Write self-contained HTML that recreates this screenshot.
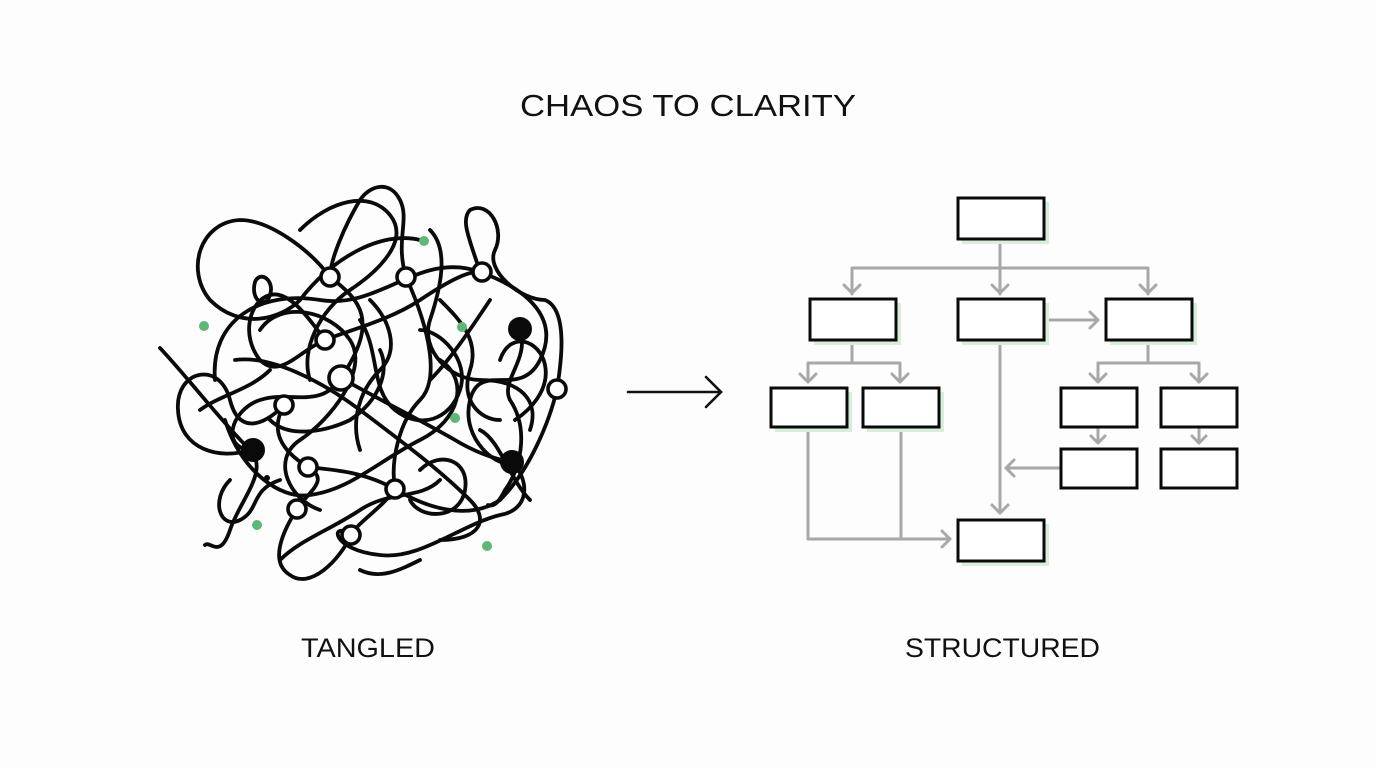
<!DOCTYPE html>
<html><head><meta charset="utf-8"><style>
html,body{margin:0;padding:0;background:#fdfdfd;}
svg{display:block}
</style></head><body>
<svg width="1376" height="768" viewBox="0 0 1376 768" xmlns="http://www.w3.org/2000/svg">
<rect width="1376" height="768" fill="#fdfdfd"/>
<g font-family="Liberation Sans, sans-serif" fill="#111">
<text x="520" y="116" font-size="31" textLength="336" lengthAdjust="spacingAndGlyphs">CHAOS TO CLARITY</text>
<text x="301" y="657" font-size="27" textLength="134" lengthAdjust="spacingAndGlyphs">TANGLED</text>
<text x="905" y="657" font-size="27" textLength="195" lengthAdjust="spacingAndGlyphs">STRUCTURED</text>
</g>
<g stroke="#111" stroke-width="2.6" fill="none" stroke-linecap="round">
<line x1="628" y1="392" x2="721" y2="392"/>
<polyline points="706,377 721,392 706,407"/>
</g>
<!-- tangle -->
<g stroke="#0a0a0a" stroke-width="3.8" fill="none" stroke-linecap="round">
<path d="M160,348 C190,380 220,420 250,450 C270,470 240,500 230,530 C220,560 210,540 205,545"/>
<path d="M250,450 C220,460 180,450 178,410 C175,370 220,360 230,400 C240,440 270,420 284,405"/>
<path d="M215,380 C210,320 260,290 320,300 C380,310 420,250 480,272 C530,290 560,320 540,360 C520,400 480,360 470,400 C460,440 500,470 512,462"/>
<path d="M480,272 C470,240 460,220 470,210 C490,200 505,230 495,250 C485,270 520,300 545,300 C570,310 560,370 557,389"/>
<path d="M520,329 C530,360 500,380 510,400 C530,430 520,470 505,490 C495,510 490,505 488,505"/>
<path d="M512,462 C530,480 530,510 500,515 C460,525 420,560 380,555 C330,550 330,520 351,535"/>
<path d="M351,535 C340,560 310,590 290,575 C265,560 290,520 297,509"/>
<path d="M297,509 C310,490 330,480 308,467 C280,450 270,430 284,405"/>
<path d="M308,467 C330,470 360,470 395,489 C430,510 470,520 500,500 C530,470 550,420 557,389"/>
<path d="M395,489 C390,460 400,420 420,400 C440,380 430,330 406,277"/>
<path d="M406,277 C395,240 410,220 400,200 C390,180 370,185 360,200 C345,225 330,260 330,277"/>
<path d="M330,277 C310,250 270,220 240,220 C200,222 185,270 210,300 C240,330 280,320 300,300 C330,260 380,230 420,240"/>
<path d="M330,277 C360,300 380,320 341,378 C320,410 290,390 260,400 C230,410 220,450 253,450"/>
<path d="M325,340 C300,350 280,380 260,360 C240,335 250,300 270,295 C290,290 310,320 325,340"/>
<path d="M325,340 C350,330 390,320 420,300 C450,280 470,270 482,272"/>
<path d="M341,378 C380,400 420,420 455,440 C480,455 500,460 512,462"/>
<path d="M255,282 C250,300 265,310 270,295 C275,280 260,270 255,282"/>
<path d="M235,360 C270,355 320,380 360,410 C400,440 440,470 470,500 C490,520 480,540 440,540"/>
<path d="M225,420 C240,470 280,500 310,495 C350,490 380,460 420,440 C460,420 470,380 440,360"/>
<path d="M395,489 C380,510 360,520 351,535"/>
<path d="M300,230 C330,200 370,190 390,215 C410,240 380,270 350,290 C320,310 300,350 310,380"/>
<path d="M360,320 C380,350 370,390 395,410 C420,430 450,420 460,390 C470,360 440,330 420,330"/>
<path d="M270,420 C290,440 330,430 350,420 C380,400 390,370 380,350"/>
<path d="M440,300 C460,320 480,340 470,370 C460,400 480,420 500,420"/>
<path d="M230,480 C210,500 220,530 240,520 C260,510 250,490 280,480"/>
<path d="M420,560 C400,570 380,580 360,570"/>
<path d="M490,300 C470,330 450,360 430,380"/>
<path d="M260,330 C280,300 330,310 350,340 C370,370 330,420 300,440 C270,460 290,500 320,510"/>
<path d="M430,230 C450,250 440,290 430,320 C420,350 450,380 480,380 C520,380 540,400 530,430"/>
<path d="M500,360 C510,330 540,340 545,365 C550,390 530,410 515,420"/>
<path d="M420,470 C440,450 470,460 465,490 C460,520 420,520 410,500"/>
<path d="M280,560 C300,540 330,530 360,510 C390,490 420,500 440,480"/>
<path d="M370,300 C390,320 400,350 380,370 C360,390 350,420 360,450"/>
<path d="M200,410 C220,395 250,390 270,370"/>
<path d="M480,430 C500,440 510,480 530,500"/>
</g>
<g stroke="#0a0a0a" stroke-width="3.6" fill="#fff">
<circle cx="330" cy="277" r="9"/><circle cx="406" cy="277" r="9"/><circle cx="482" cy="272" r="9"/>
<circle cx="325" cy="340" r="9"/><circle cx="341" cy="378" r="12"/><circle cx="284" cy="405" r="9"/>
<circle cx="308" cy="467" r="9"/><circle cx="395" cy="489" r="9"/><circle cx="297" cy="509" r="9"/>
<circle cx="351" cy="535" r="9"/><circle cx="557" cy="389" r="9"/>
</g>
<g fill="#0a0a0a">
<circle cx="520" cy="329" r="12"/><circle cx="253" cy="450" r="12"/><circle cx="512" cy="462" r="12"/>
<circle cx="267" cy="478" r="3"/>
</g>
<g fill="#5cb874">
<circle cx="424" cy="241" r="5"/><circle cx="204" cy="326" r="5"/><circle cx="462" cy="327" r="5"/>
<circle cx="455" cy="418" r="5"/><circle cx="257" cy="525" r="5"/><circle cx="487" cy="546" r="5"/>
</g>
<g stroke="#a8a8a8" stroke-width="3" fill="none" stroke-linecap="round" stroke-linejoin="round">
<line x1="1000" y1="239" x2="1000" y2="294"/>
<polyline points="852,294 852,268 1148,268 1148,294"/>
<polyline points="844,285 852,293 860,285"/><polyline points="992,285 1000,293 1008,285"/><polyline points="1140,285 1148,293 1156,285"/>
<polyline points="1044,320 1098,320"/><polyline points="1090,312 1098,320 1090,328"/>
<polyline points="852,340 852,363"/>
<polyline points="808,382 808,363 900,363 900,382"/>
<polyline points="800,374 808,382 816,374"/><polyline points="892,374 900,382 908,374"/>
<polyline points="1148,340 1148,363"/>
<polyline points="1098,382 1098,363 1199,363 1199,382"/>
<polyline points="1090,374 1098,382 1106,374"/><polyline points="1191,374 1199,382 1207,374"/>
<polyline points="1098,427 1098,443"/><polyline points="1091,436 1098,443 1105,436"/>
<polyline points="1199,427 1199,443"/><polyline points="1192,436 1199,443 1206,436"/>
<line x1="1000" y1="340" x2="1000" y2="513"/><polyline points="992,505 1000,513 1008,505"/>
<line x1="1060" y1="468" x2="1006" y2="468"/><polyline points="1014,460 1006,468 1014,476"/>
<polyline points="808,427 808,539 950,539"/><line x1="901" y1="427" x2="901" y2="539"/>
<polyline points="942,531 950,539 942,547"/>
</g>
<g fill="#d6eedb">
<rect x="962" y="202" width="87" height="42"/>
<rect x="814" y="303" width="87" height="42"/><rect x="962" y="303" width="87" height="42"/><rect x="1110" y="303" width="87" height="42"/>
<rect x="775" y="392" width="77" height="40"/><rect x="867" y="392" width="77" height="40"/>
<rect x="962" y="524" width="87" height="42"/>
</g>
<g fill="#fff" stroke="#0a0a0a" stroke-width="3">
<rect x="958" y="198" width="86" height="41"/>
<rect x="810" y="299" width="86" height="41"/><rect x="958" y="299" width="86" height="41"/><rect x="1106" y="299" width="86" height="41"/>
<rect x="771" y="388" width="76" height="39"/><rect x="863" y="388" width="76" height="39"/>
<rect x="1061" y="388" width="76" height="39"/><rect x="1161" y="388" width="76" height="39"/>
<rect x="1061" y="449" width="76" height="39"/><rect x="1161" y="449" width="76" height="39"/>
<rect x="958" y="520" width="86" height="41"/>
</g>
</svg>
</body></html>
